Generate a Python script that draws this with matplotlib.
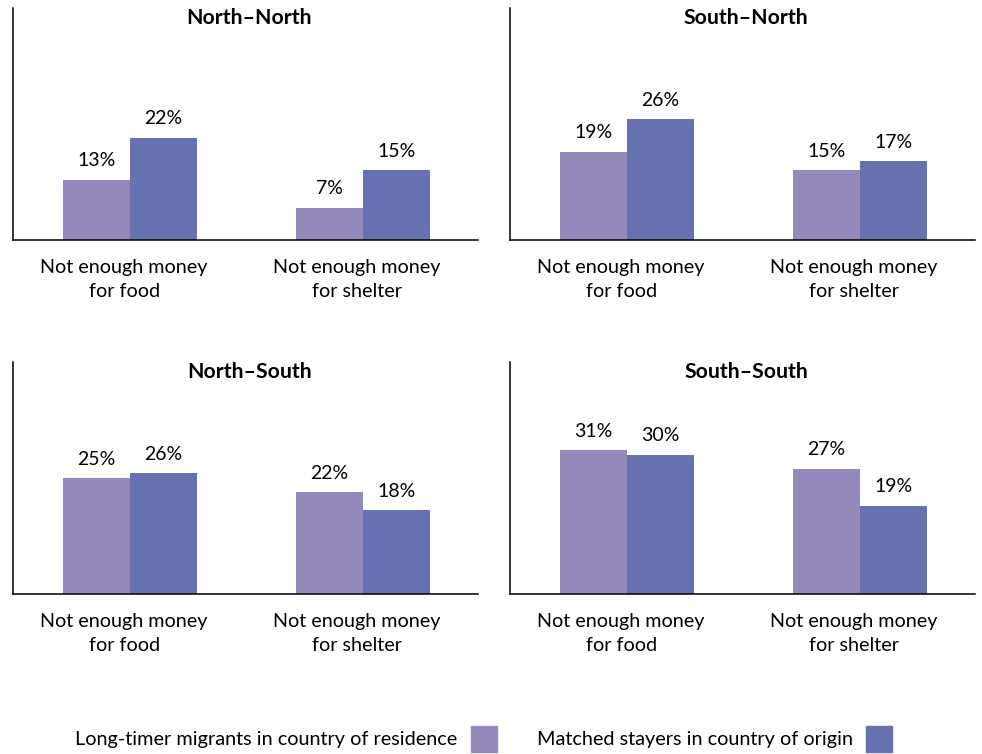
import numpy as np
import matplotlib
matplotlib.use('Agg')
import matplotlib.pyplot as plt
from matplotlib.patches import Patch

# data
panels = ['North\u2013North', 'South\u2013North', 'North\u2013South', 'South\u2013South']
categories = ['Not enough money\nfor food', 'Not enough money\nfor shelter']
series_names = ['Long-timer migrants in country of residence',
                'Matched stayers in country of origin']
migrants = [[13, 7], [19, 15], [25, 22], [31, 27]]
stayers = [[22, 15], [26, 17], [26, 18], [30, 19]]

purple = '#9589bb'
blue = '#6771b0'

plt.rcParams['font.family'] = ['Lato', 'DejaVu Sans']
fig = plt.figure(figsize=(9.82, 7.54), dpi=100)

# axes boxes in figure fractions (left, bottom, width, height)
boxes = [(0.0132, 0.6817, 0.4735, 0.3077),
         (0.5193, 0.6817, 0.4735, 0.3077),
         (0.0132, 0.2122, 0.4735, 0.3077),
         (0.5193, 0.2122, 0.4735, 0.3077)]

x = np.arange(len(categories))
w = 0.288
for i, name in enumerate(panels):
    ax = fig.add_axes(boxes[i])
    b1 = ax.bar(x - w / 2 + 0.004, migrants[i], w, color=purple)
    b2 = ax.bar(x + w / 2 + 0.004, stayers[i], w, color=blue)
    for bars in (b1, b2):
        ax.bar_label(bars, labels=[f'{v}%' for v in bars.datavalues],
                     padding=7.5, fontsize=14)
    ax.set_xlim(-0.5, 1.5)
    ax.set_ylim(0, 50)
    ax.set_xticks(x - 0.022)
    ax.set_xticklabels(categories, fontsize=14.2, linespacing=1.55)
    ax.tick_params(axis='x', length=0, pad=13.5)
    ax.set_yticks([])
    for s in ['top', 'right']:
        ax.spines[s].set_visible(False)
    for s in ['left', 'bottom']:
        ax.spines[s].set_linewidth(1.1)
    ax.text(0.508, 0.955, name, transform=ax.transAxes, ha='center', va='center',
            fontsize=15.3, fontweight='bold')

handles = [Patch(color=purple), Patch(color=blue)]
fig.legend(handles, series_names, loc='lower center', bbox_to_anchor=(0.4924, -0.010),
           ncol=2, frameon=False, markerfirst=False, fontsize=14.3, borderpad=0,
           handlelength=1.3, handleheight=1.6, columnspacing=2.0, handletextpad=0.7)

fig.savefig('out.png', dpi=100)
